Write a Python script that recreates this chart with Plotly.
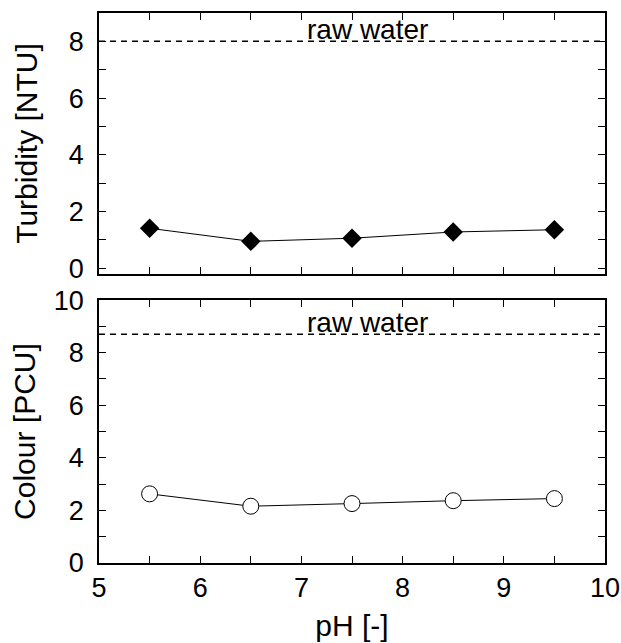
import plotly.graph_objects as go
from plotly.subplots import make_subplots

ph = [5.5, 6.5, 7.5, 8.5, 9.5]
turbidity = [1.41, 0.95, 1.06, 1.28, 1.36]
colour = [2.63, 2.16, 2.26, 2.37, 2.45]
raw_turbidity = 8.0
raw_colour = 8.7

x_ticks = [5, 5.5, 6, 6.5, 7, 7.5, 8, 8.5, 9, 9.5, 10]
x_labels = ["5", "", "6", "", "7", "", "8", "", "9", "", "10"]
y1_ticks = list(range(0, 10))
y1_labels = [str(v) if v % 2 == 0 else "" for v in y1_ticks]
y2_ticks = list(range(0, 11))
y2_labels = [str(v) if v % 2 == 0 else "" for v in y2_ticks]

FONT = "Liberation Sans, Arial, sans-serif"
TICK = 27
TITLE = 30

fig = make_subplots(rows=2, cols=1, shared_xaxes=False)

fig.add_trace(go.Scatter(x=ph, y=turbidity, mode="lines+markers",
                         line=dict(color="black", width=1),
                         marker=dict(symbol="diamond", size=15, color="black"),
                         showlegend=False), row=1, col=1)
fig.add_trace(go.Scatter(x=[5, 10], y=[raw_turbidity, raw_turbidity], mode="lines",
                         line=dict(color="black", width=1.5, dash="6px,5px"),
                         showlegend=False), row=1, col=1)
fig.add_trace(go.Scatter(x=ph, y=colour, mode="lines+markers",
                         line=dict(color="black", width=1),
                         marker=dict(symbol="circle", size=16, color="white",
                                     line=dict(color="black", width=1)),
                         showlegend=False), row=2, col=1)
fig.add_trace(go.Scatter(x=[5, 10], y=[raw_colour, raw_colour], mode="lines",
                         line=dict(color="black", width=1.5, dash="6px,5px"),
                         showlegend=False), row=2, col=1)

fig.add_annotation(x=7.65, y=raw_turbidity, xref="x", yref="y", text="raw water",
                   showarrow=False, yanchor="bottom", yshift=-6,
                   font=dict(size=28, color="black", family=FONT))
fig.add_annotation(x=7.65, y=raw_colour, xref="x2", yref="y2", text="raw water",
                   showarrow=False, yanchor="bottom", yshift=-6,
                   font=dict(size=28, color="black", family=FONT))

axis_common = dict(showline=True, linecolor="black", linewidth=1.5, mirror="allticks",
                   ticks="inside", ticklen=7, tickwidth=1, tickcolor="black",
                   showgrid=False, zeroline=False, automargin=False,
                   ticklabeloverflow="allow",
                   tickfont=dict(size=TICK, color="black", family=FONT))

fig.update_xaxes(range=[5, 10], tickvals=x_ticks, ticktext=x_labels,
                 ticklabelstandoff=0, **axis_common)
fig.update_xaxes(showticklabels=False, row=1, col=1)
fig.update_xaxes(title=dict(text="pH [-]", font=dict(size=TITLE, color="black", family=FONT), standoff=13),
                 row=2, col=1)
fig.update_yaxes(range=[-0.2, 9], tickvals=y1_ticks, ticktext=y1_labels, ticklabelstandoff=8,
                 title=dict(text="Turbidity [NTU]", font=dict(size=TITLE, color="black", family=FONT), standoff=22),
                 row=1, col=1, **axis_common)
fig.update_yaxes(range=[0, 10], tickvals=y2_ticks, ticktext=y2_labels, ticklabelstandoff=8,
                 title=dict(text="Colour [PCU]", font=dict(size=TITLE, color="black", family=FONT), standoff=9),
                 row=2, col=1, **axis_common)

fig.update_layout(width=621, height=643, margin=dict(l=99, r=16, t=13, b=80),
                  plot_bgcolor="white", paper_bgcolor="white",
                  font=dict(family=FONT, color="black"))
fig.layout.yaxis.domain = [0.5255, 1.0]
fig.layout.yaxis2.domain = [0.0, 0.478]

# remove the page's default body margin so the 621x643 figure fills the window exactly
fig.write_html("out.html", config={"displayModeBar": False},
               post_script="document.body.style.margin='0';document.body.style.overflow='hidden';")
